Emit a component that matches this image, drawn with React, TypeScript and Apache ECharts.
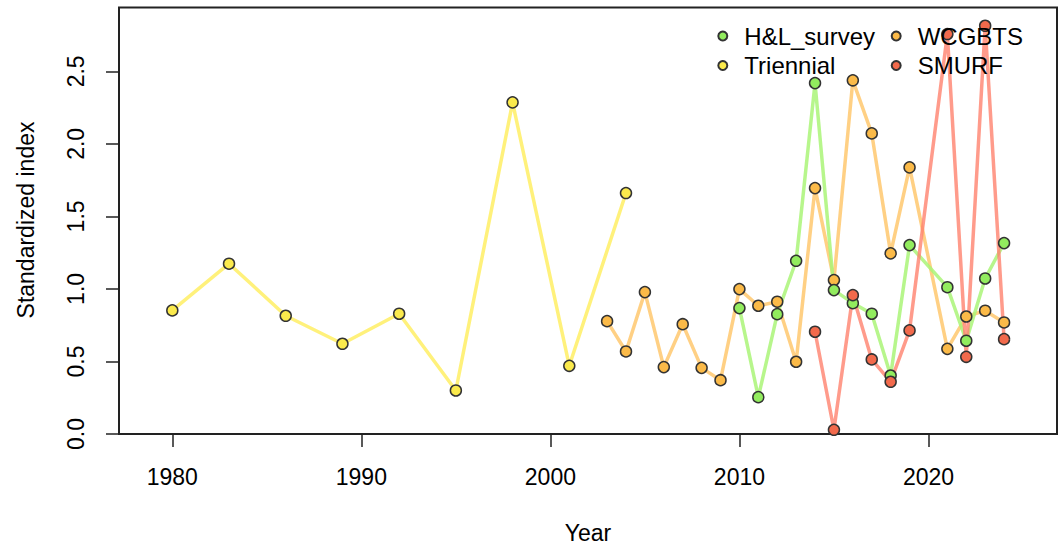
import React, { useEffect, useRef } from "react";
import * as echarts from "echarts";

const xTicks = [1980, 1990, 2000, 2010, 2020];
const yTicks = [0, 0.5, 1.0, 1.5, 2.0, 2.5];

const triYears = [1980, 1983, 1986, 1989, 1992, 1995, 1998, 2001, 2004];
const triValues = [0.852, 1.174, 0.815, 0.622, 0.829, 0.3, 2.286, 0.47, 1.661];

const wcYears = [2003, 2004, 2005, 2006, 2007, 2008, 2009, 2010, 2011, 2012, 2013, 2014, 2015, 2016, 2017, 2018, 2019, 2021, 2022, 2023, 2024];
const wcValues = [0.778, 0.569, 0.978, 0.461, 0.757, 0.456, 0.371, 0.999, 0.884, 0.912, 0.498, 1.695, 1.061, 2.438, 2.072, 1.245, 1.838, 0.587, 0.81, 0.85, 0.769];

const hlYears = [2010, 2011, 2012, 2013, 2014, 2015, 2016, 2017, 2018, 2019, 2021, 2022, 2023, 2024];
const hlValues = [0.868, 0.254, 0.826, 1.194, 2.419, 0.992, 0.902, 0.829, 0.403, 1.302, 1.012, 0.643, 1.072, 1.316];

const smYears = [2014, 2015, 2016, 2017, 2018, 2019, 2021, 2022, 2023, 2024];
const smValues = [0.705, 0.029, 0.957, 0.514, 0.36, 0.714, 2.757, 0.532, 2.814, 0.654];

const FONT = "'Liberation Sans', Arial, sans-serif";

function pairs(xs: number[], ys: number[]) {
  return xs.map((x, i) => [x, ys[i]]);
}

export default function App() {
  const ref = useRef<HTMLDivElement>(null);
  useEffect(() => {
    if (!ref.current) return;
    const chart = echarts.init(ref.current, undefined, { renderer: "svg" });
    const mk = (name: string, xs: number[], ys: number[], fill: string, line: string) => ({
      name,
      type: "line",
      data: pairs(xs, ys),
      symbol: "circle",
      symbolSize: 11,
      showSymbol: true,
      itemStyle: { color: fill, borderColor: "#333", borderWidth: 1.5 },
      lineStyle: { color: line, width: 3.5 },
      emphasis: { disabled: true },
    });
    const legendCommon = {
      orient: "vertical",
      itemWidth: 33,
      itemHeight: 9,
      itemGap: 5.5,
      icon: "circle",
      textStyle: { fontFamily: FONT, fontSize: 24, color: "#000", lineHeight: 23 },
      selectedMode: false,
    };
    chart.setOption({
      animation: false,
      backgroundColor: "#fff",
      grid: {
        left: 119,
        right: 2,
        top: 7.5,
        bottom: 117,
        show: true,
        borderColor: "#222",
        borderWidth: 2,
        backgroundColor: "transparent",
      },
      xAxis: {
        type: "value",
        min: 1977.18,
        max: 2026.8,
        axisLine: { show: false },
        splitLine: { show: false },
        axisTick: { show: true, length: 13, customValues: xTicks, lineStyle: { color: "#222", width: 1.5 } },
        axisLabel: {
          customValues: xTicks,
          fontFamily: FONT,
          fontSize: 23,
          color: "#000",
          margin: 31,
          formatter: (v: number) => String(v),
        },
      },
      yAxis: {
        type: "value",
        min: 0,
        max: 2.94,
        axisLine: { show: false },
        splitLine: { show: false },
        axisTick: { show: true, length: 13, customValues: yTicks, lineStyle: { color: "#222", width: 1.5 } },
        axisLabel: {
          customValues: yTicks,
          rotate: 90,
          fontFamily: FONT,
          fontSize: 23,
          color: "#000",
          margin: 32,
          formatter: (v: number) => v.toFixed(1),
        },
      },
      legend: [
        { ...legendCommon, left: 712.3, top: 19, data: ["H&L_survey", "Triennial"] },
        { ...legendCommon, left: 885.7, top: 19, data: ["WCGBTS", "SMURF"] },
      ],
      graphic: [
        {
          type: "text",
          x: 588,
          y: 533,
          style: { text: "Year", fontFamily: FONT, fontSize: 23, fill: "#000", align: "center", verticalAlign: "middle" },
        },
        {
          type: "text",
          x: 26,
          y: 220,
          rotation: Math.PI / 2,
          style: { text: "Standardized index", fontFamily: FONT, fontSize: 23, fill: "#000", align: "center", verticalAlign: "middle" },
        },
      ],
      series: [
        mk("Triennial", triYears, triValues, "#FBEA4C", "rgba(255,238,100,0.85)"),
        mk("WCGBTS", wcYears, wcValues, "#FBBA48", "rgba(255,200,110,0.85)"),
        mk("H&L_survey", hlYears, hlValues, "#92EC5E", "rgba(170,245,120,0.85)"),
        mk("SMURF", smYears, smValues, "#F26A4C", "rgba(255,130,110,0.8)"),
      ],
    });
    return () => chart.dispose();
  }, []);
  return <div ref={ref} style={{ position: "fixed", left: 0, top: 0, width: 1059, height: 551 }} />;
}
